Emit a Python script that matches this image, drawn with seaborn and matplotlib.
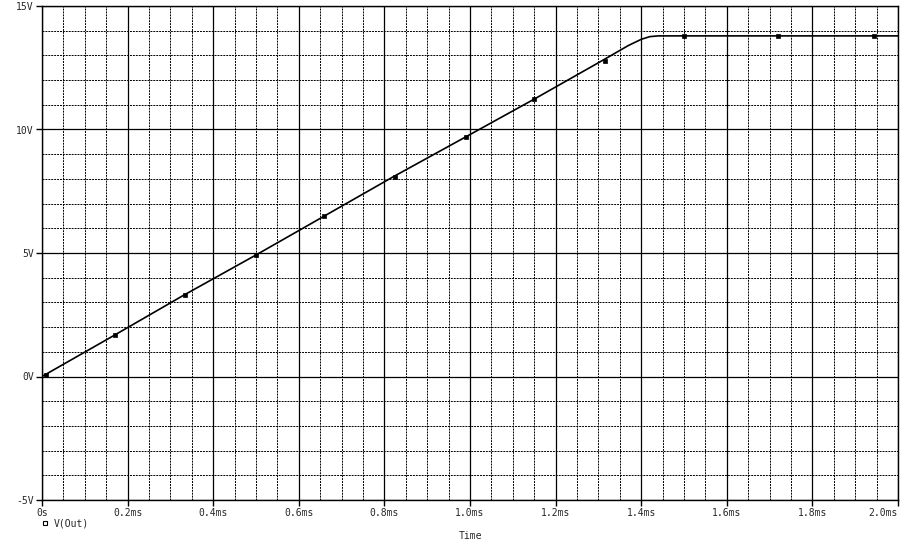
import matplotlib
matplotlib.use("Agg")
import matplotlib.pyplot as plt
import seaborn as sns
import pandas as pd
from matplotlib.ticker import MultipleLocator
from matplotlib.lines import Line2D

# trace V(Out), time in ms, voltage in V
t_trace = [0.0, 0.17, 0.33, 0.50, 0.66, 0.82, 0.99, 1.15, 1.31, 1.37, 1.40, 1.42, 1.44, 1.50, 1.72, 1.95, 2.0]
v_trace = [0.0, 1.68, 3.28, 4.92, 6.50, 8.08, 9.70, 11.23, 12.80, 13.40, 13.65, 13.76, 13.79, 13.79, 13.79, 13.79, 13.79]

# marker positions along the trace
t_mark = [0.01, 0.17, 0.335, 0.50, 0.66, 0.825, 0.99, 1.15, 1.315, 1.50, 1.72, 1.945]
v_mark = [0.05, 1.68, 3.30, 4.92, 6.50, 8.08, 9.70, 11.23, 12.77, 13.79, 13.79, 13.79]

x_ticks = [0.0, 0.2, 0.4, 0.6, 0.8, 1.0, 1.2, 1.4, 1.6, 1.8, 2.0]
x_labels = ["0s", "0.2ms", "0.4ms", "0.6ms", "0.8ms", "1.0ms", "1.2ms", "1.4ms", "1.6ms", "1.8ms", "2.0ms"]
y_ticks = [-5, 0, 5, 10, 15]
y_labels = ["-5V", "0V", "5V", "10V", "15V"]

sns.set_style("white")
plt.rcParams["font.family"] = ["DejaVu Sans Mono"]

df = pd.DataFrame({"t": t_trace, "v": v_trace})
dm = pd.DataFrame({"t": t_mark, "v": v_mark})

fig = plt.figure(figsize=(9.21, 5.43), dpi=100)
ax = fig.add_axes([42 / 921, 1 - 500 / 543, 856 / 921, 494 / 543])

sns.lineplot(data=df, x="t", y="v", ax=ax, color="black", linewidth=1.2, zorder=5)
sns.scatterplot(data=dm, x="t", y="v", ax=ax, color="black", marker="s", s=9,
                edgecolor="black", linewidth=0.5, zorder=6)

ax.set_xlim(0, 2.0)
ax.set_ylim(-5, 15)
ax.set_xticks(x_ticks)
ax.set_xticklabels(x_labels)
ax.set_yticks(y_ticks)
ax.set_yticklabels(y_labels)
ax.xaxis.set_minor_locator(MultipleLocator(0.05))
ax.yaxis.set_minor_locator(MultipleLocator(1))

ax.grid(which="major", color="black", linestyle="-", linewidth=0.9)
ax.grid(which="minor", color="black", linestyle=(0, (2, 1)), linewidth=0.7)
ax.set_axisbelow(True)

ax.tick_params(which="major", direction="out", length=4, width=1, color="black",
               labelsize=7, pad=2, bottom=True, left=True)
ax.tick_params(which="minor", length=0)
# last label kept inside the figure, as in the original
ax.get_xticklabels()[-1].set_horizontalalignment("right")
for s in ax.spines.values():
    s.set_color("black")
    s.set_linewidth(1)

ax.set_xlabel("")
ax.set_ylabel("")
fig.text(470 / 921, 1 - 536 / 543, "Time", fontsize=7, ha="center", va="center")

leg_handle = Line2D([], [], linestyle="none", marker="s", markersize=3,
                    markerfacecolor="white", markeredgecolor="black", markeredgewidth=0.8)
fig.legend([leg_handle], ["V(Out)"], loc="center left", bbox_to_anchor=(41 / 921, 1 - 523 / 543),
           frameon=False, fontsize=7, handlelength=0.8, handletextpad=0.5,
           borderpad=0, borderaxespad=0)

fig.savefig("out.png", dpi=100)
